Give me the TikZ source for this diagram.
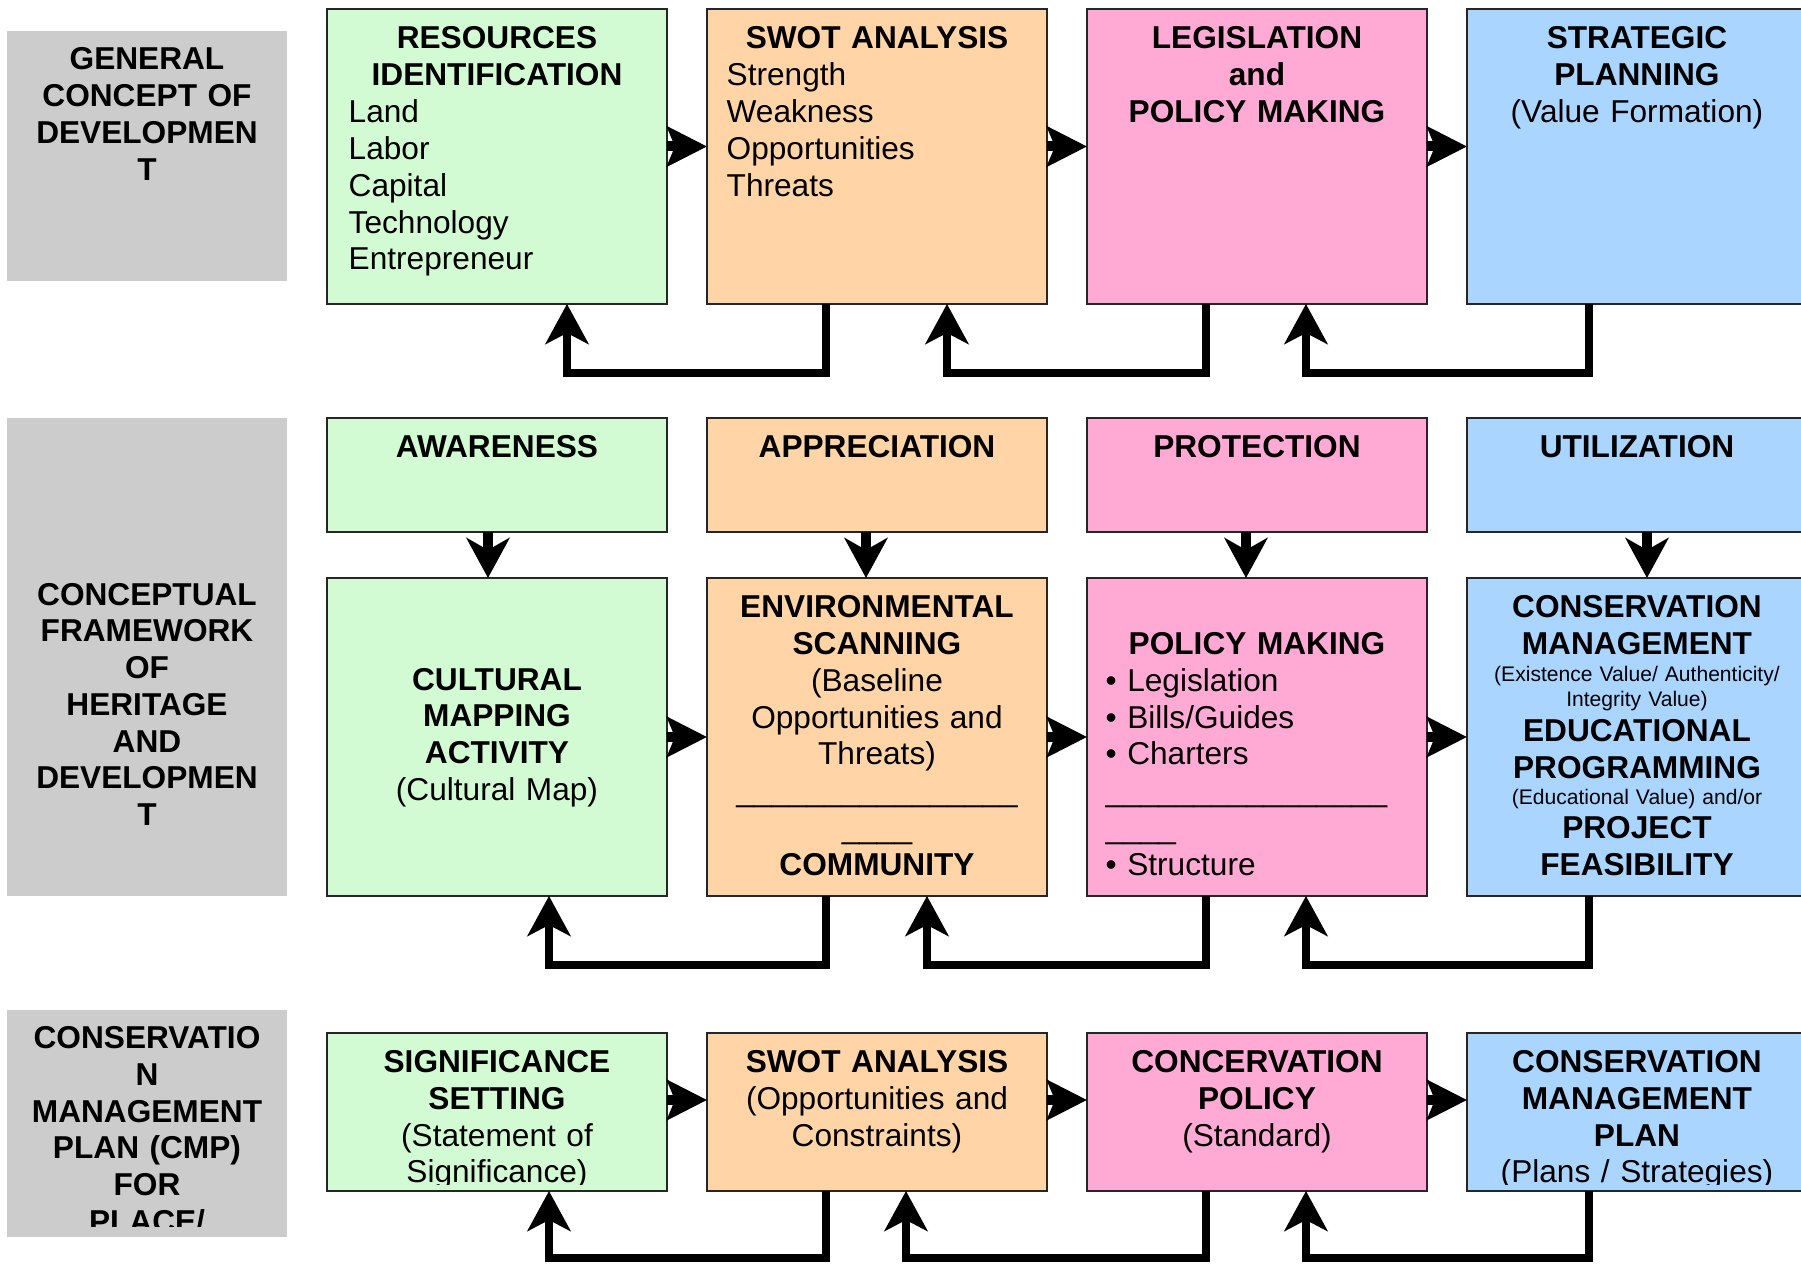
\documentclass[tikz,border=0pt]{standalone}
\usepackage{fontspec}
\setmainfont{Liberation Sans}
\usetikzlibrary{arrows.meta,positioning}

\definecolor{greenbox}{HTML}{D3FBD3}
\definecolor{orangebox}{HTML}{FFD4A6}
\definecolor{pinkbox}{HTML}{FFAAD4}
\definecolor{bluebox}{HTML}{AAD5FF}
\definecolor{graybox}{HTML}{CCCCCC}

\begin{document}
\begin{tikzpicture}[x=0.1mm, y=-0.1mm,
  box/.style = {draw=black!85, line width=0.5pt, anchor=north west, minimum width=34mm, inner sep=0pt, outer sep=0pt},
  side/.style = {fill=graybox, anchor=north west, minimum width=28mm, inner sep=0pt, outer sep=0pt},
  txt/.style = {font=\fontsize{9}{10.45}\selectfont, text width=33mm, align=center, inner sep=0pt, anchor=base},
  bold/.style = {txt, font=\fontsize{9}{10.45}\selectfont\bfseries},
  list/.style = {txt, align=left, anchor=base west},
  tiny/.style = {txt, font=\fontsize{6}{7.2}\selectfont},
  fwd/.style = {line width=1mm, -{Stealth[length=4mm, width=4mm, inset=0.8mm]}},
  down/.style = {line width=1mm, -{Stealth[length=4mm, width=4.3mm, inset=1.2mm]}},
  back/.style = {line width=0.85mm, line join=miter, -{Stealth[length=4mm, width=4.3mm, inset=1.1mm]}}]
  \useasboundingbox (0,0) rectangle (1801,1264);
  \clip (0,0) rectangle (1801,1264);
  \fill[white] (0,0) rectangle (1801,1264);

  % row 1: general concept
  \node[side, minimum height=25mm] (general) at (7,31) {};
  \node[box, fill=greenbox, minimum height=29.5mm] (res) at (327,9) {};
  \node[box, fill=orangebox, minimum height=29.5mm] (swot) [right=4mm of res] {};
  \node[box, fill=pinkbox, minimum height=29.5mm] (legis) [right=4mm of swot] {};
  \node[box, fill=bluebox, minimum height=29.5mm] (plan) [right=4mm of legis] {};

  % row 2: conceptual framework
  \node[side, minimum height=47.8mm] (concept) at (7,418) {};
  \node[box, fill=greenbox, minimum height=11.4mm] (aware) at (327,418) {};
  \node[box, fill=orangebox, minimum height=11.4mm] (apprec) [right=4mm of aware] {};
  \node[box, fill=pinkbox, minimum height=11.4mm] (protect) [right=4mm of apprec] {};
  \node[box, fill=bluebox, minimum height=11.4mm] (util) [right=4mm of protect] {};
  \node[box, fill=greenbox, minimum height=31.8mm] (map) at (327,578) {};
  \node[box, fill=orangebox, minimum height=31.8mm] (scan) [right=4mm of map] {};
  \node[box, fill=pinkbox, minimum height=31.8mm] (policy) [right=4mm of scan] {};
  \node[box, fill=bluebox, minimum height=31.8mm] (cons) [right=4mm of policy] {};

  % row 3: conservation management plan
  \node[side, minimum height=22.7mm] (cmpside) at (7,1010) {};
  \node[box, fill=greenbox, minimum height=15.8mm] (signif) at (327,1033) {};
  \node[box, fill=orangebox, minimum height=15.8mm] (swotb) [right=4mm of signif] {};
  \node[box, fill=pinkbox, minimum height=15.8mm] (cpolicy) [right=4mm of swotb] {};
  \node[box, fill=bluebox, minimum height=15.8mm] (cmp) [right=4mm of cpolicy] {};

  % forward arrows
  \draw[fwd] ([yshift=1mm]res.east) -- ([yshift=1mm]swot.west);
  \draw[fwd] ([yshift=1mm]swot.east) -- ([yshift=1mm]legis.west);
  \draw[fwd] ([yshift=1mm]legis.east) -- ([yshift=1mm]plan.west);
  \draw[fwd] (map) -- (scan);
  \draw[fwd] (scan) -- (policy);
  \draw[fwd] (policy) -- (cons);
  \draw[fwd] ([yshift=1.2mm]signif.east) -- ([yshift=1.2mm]swotb.west);
  \draw[fwd] ([yshift=1.2mm]swotb.east) -- ([yshift=1.2mm]cpolicy.west);
  \draw[fwd] ([yshift=1.2mm]cpolicy.east) -- ([yshift=1.2mm]cmp.west);

  % down arrows
  \draw[down] ([xshift=-0.9mm]aware.south) -- ([xshift=-0.9mm]map.north);
  \draw[down] ([xshift=-1.1mm]apprec.south) -- ([xshift=-1.1mm]scan.north);
  \draw[down] ([xshift=-1.1mm]protect.south) -- ([xshift=-1.1mm]policy.north);
  \draw[down] ([xshift=1mm]util.south) -- ([xshift=1mm]cons.north);

  % feedback arrows
  \draw[back] ([xshift=11.9mm]swot.south west) -- ++(0,69) -| ([xshift=24mm]res.south west);
  \draw[back] ([xshift=11.9mm]legis.south west) -- ++(0,69) -| ([xshift=24mm]swot.south west);
  \draw[back] ([xshift=12.2mm]plan.south west) -- ++(0,69) -| ([xshift=21.9mm]legis.south west);
  \draw[back] ([xshift=11.9mm]scan.south west) -- ++(0,69) -| ([xshift=22.2mm]map.south west);
  \draw[back] ([xshift=11.9mm]policy.south west) -- ++(0,69) -| ([xshift=22mm]scan.south west);
  \draw[back] ([xshift=12.2mm]cons.south west) -- ++(0,69) -| ([xshift=21.9mm]policy.south west);
  \draw[back] ([xshift=11.9mm]swotb.south west) -- ++(0,67) -| ([xshift=22.2mm]signif.south west);
  \draw[back] ([xshift=11.9mm]cpolicy.south west) -- ++(0,67) -| ([xshift=19.9mm]swotb.south west);
  \draw[back] ([xshift=12.2mm]cmp.south west) -- ++(0,67) -| ([xshift=21.9mm]cpolicy.south west);

  % texts row 1
  \node[bold] (general-t) at ([yshift=-3.9mm]general.north) {GENERAL\\CONCEPT OF\\DEVELOPMEN\\T};
  \node[bold] (res-t) at ([yshift=-4mm]res.north) {RESOURCES\\IDENTIFICATION};
  \node[list] (res-l) at ([xshift=2.1mm, yshift=-11.4mm]res.north west) {Land\\Labor\\Capital\\Technology\\Entrepreneur};
  \node[bold] (swot-t) at ([yshift=-4mm]swot.north) {SWOT ANALYSIS};
  \node[list] (swot-l) at ([xshift=1.9mm, yshift=-7.7mm]swot.north west) {Strength\\Weakness\\Opportunities\\Threats};
  \node[bold] (legis-t) at ([yshift=-4mm]legis.north) {LEGISLATION\\and\\POLICY MAKING};
  \node[txt] (plan-t) at ([yshift=-4mm]plan.north) {\textbf{STRATEGIC}\\\textbf{PLANNING}\\(Value Formation)};

  % texts row 2
  \node[bold] (concept-t) at ([yshift=-18.72mm]concept.north) {CONCEPTUAL\\FRAMEWORK\\OF\\HERITAGE\\AND\\DEVELOPMEN\\T};
  \node[bold] (aware-t) at ([yshift=-4mm]aware.north) {AWARENESS};
  \node[bold] (apprec-t) at ([yshift=-4mm]apprec.north) {APPRECIATION};
  \node[bold] (protect-t) at ([yshift=-4mm]protect.north) {PROTECTION};
  \node[bold] (util-t) at ([yshift=-4mm]util.north) {UTILIZATION};
  \node[txt] (map-t) at ([yshift=-11.22mm]map.north) {\textbf{CULTURAL}\\\textbf{MAPPING}\\\textbf{ACTIVITY}\\(Cultural Map)};
  \node[txt] (scan-t) at ([yshift=-4mm]scan.north) {\textbf{ENVIRONMENTAL}\\\textbf{SCANNING}\\(Baseline\\Opportunities and\\Threats)\\\_\_\_\_\_\_\_\_\_\_\_\_\_\_\_\_\\\_\_\_\_\\\textbf{COMMUNITY}};
  \node[bold] (policy-t) at ([yshift=-7.66mm]policy.north) {POLICY MAKING};
  \node[list] (policy-l) at ([xshift=1.8mm, yshift=-11.34mm]policy.north west) {• Legislation\\• Bills/Guides\\• Charters\\\_\_\_\_\_\_\_\_\_\_\_\_\_\_\_\_\\\_\_\_\_\\• Structure};
  \node[bold] (cons-a) at ([yshift=-4mm]cons.north) {CONSERVATION\\MANAGEMENT};
  \node[tiny] (cons-b) at ([yshift=-10.37mm]cons.north) {(Existence Value/ Authenticity/\\Integrity Value)};
  \node[bold] (cons-c) at ([yshift=-16.39mm]cons.north) {EDUCATIONAL\\PROGRAMMING};
  \node[tiny] (cons-d) at ([yshift=-22.66mm]cons.north) {(Educational Value) and/or};
  \node[bold] (cons-e) at ([yshift=-26.04mm]cons.north) {PROJECT\\FEASIBILITY};

  % texts row 3 (cut at the bottom of their frames)
  \begin{scope}
    \clip (cmpside.north west) rectangle ([yshift=1mm]cmpside.south east);
    \node[bold] (cmpside-t) at ([yshift=-3.86mm]cmpside.north) {CONSERVATIO\\N\\MANAGEMENT\\PLAN (CMP)\\FOR\\PLACE/};
  \end{scope}
  \begin{scope}
    \clip (signif.north west) rectangle ([yshift=0.6mm]cmp.south east);
    \node[txt] (signif-t) at ([yshift=-3.97mm]signif.north) {\textbf{SIGNIFICANCE}\\\textbf{SETTING}\\(Statement of\\Significance)};
    \node[txt] (swotb-t) at ([yshift=-3.97mm]swotb.north) {\textbf{SWOT ANALYSIS}\\(Opportunities and\\Constraints)};
    \node[txt] (cpolicy-t) at ([yshift=-3.97mm]cpolicy.north) {\textbf{CONCERVATION}\\\textbf{POLICY}\\(Standard)};
    \node[txt] (cmp-t) at ([yshift=-3.97mm]cmp.north) {\textbf{CONSERVATION}\\\textbf{MANAGEMENT}\\\textbf{PLAN}\\(Plans / Strategies)};
  \end{scope}
\end{tikzpicture}
\end{document}
